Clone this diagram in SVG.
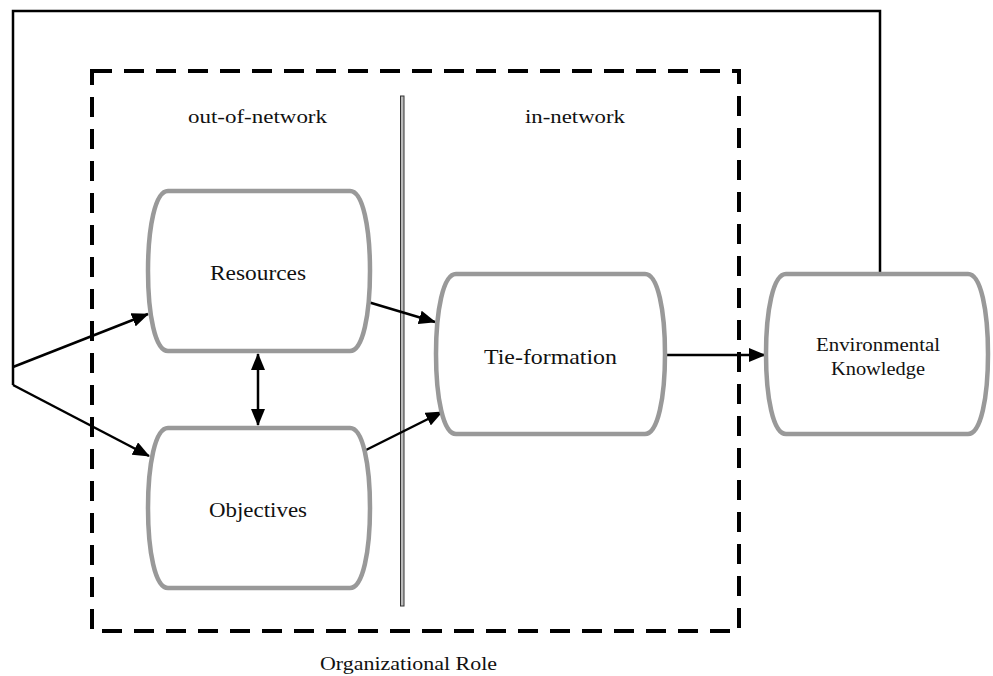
<svg xmlns="http://www.w3.org/2000/svg" width="993" height="676" viewBox="0 0 993 676">
<style>
.node{fill:#fff;stroke:#999;stroke-width:4.5}
.lbl{font-family:"Liberation Serif",serif;fill:#111;text-anchor:start}
.conn{stroke:#000;stroke-width:2.5;fill:none}
.dash{stroke:#000;stroke-width:4;fill:none;stroke-dasharray:20 12}
</style>
<defs>
<marker id="ah" markerUnits="userSpaceOnUse" markerWidth="18" markerHeight="14" refX="16" refY="7" orient="auto-start-reverse">
<path d="M0,0 L17,7 L0,14 Z" fill="#000"/>
</marker>
</defs>
<rect width="993" height="676" fill="#fff"/>
<g id="org-role">
<rect class="dash" x="92" y="71" width="647" height="560"/>
<text class="lbl" x="320" y="670" font-size="19" textLength="177" lengthAdjust="spacingAndGlyphs">Organizational Role</text>
</g>
<g id="divider">
<rect x="400.5" y="96" width="3.5" height="510" fill="#bbb" stroke="#333" stroke-width="1"/>
<text class="lbl" x="188" y="123" font-size="19" textLength="139" lengthAdjust="spacingAndGlyphs">out-of-network</text>
<text class="lbl" x="525" y="123" font-size="19" textLength="100" lengthAdjust="spacingAndGlyphs">in-network</text>
</g>
<g id="connectors">
<polyline class="conn" points="880,274 880,11 13,11 13,385"/>
<line class="conn" x1="13" y1="367" x2="148" y2="314" marker-end="url(#ah)"/>
<line class="conn" x1="13" y1="385" x2="149" y2="456" marker-end="url(#ah)"/>
<line class="conn" x1="258" y1="354" x2="258" y2="425" marker-start="url(#ah)" marker-end="url(#ah)"/>
<line class="conn" x1="368" y1="302" x2="435" y2="322" marker-end="url(#ah)"/>
<line class="conn" x1="362" y1="452" x2="442" y2="412" marker-end="url(#ah)"/>
<line class="conn" x1="665" y1="355" x2="765" y2="355" marker-end="url(#ah)"/>
</g>
<g id="resources">
<path class="node" d="M168,191 H350 C363,191 370,228 370,271 C370,314 363,351 350,351 H168 C155,351 148,314 148,271 C148,228 155,191 168,191 Z"/>
<text class="lbl" x="210" y="280" font-size="21" textLength="96" lengthAdjust="spacingAndGlyphs">Resources</text>
</g>
<g id="objectives">
<path class="node" d="M168,428 H350 C363,428 370,465 370,508 C370,551 363,588 350,588 H168 C155,588 148,551 148,508 C148,465 155,428 168,428 Z"/>
<text class="lbl" x="209" y="517" font-size="21" textLength="98" lengthAdjust="spacingAndGlyphs">Objectives</text>
</g>
<g id="tie-formation">
<path class="node" d="M456,274 H645 C658,274 665,311 665,354 C665,397 658,434 645,434 H456 C443,434 436,397 436,354 C436,311 443,274 456,274 Z"/>
<text class="lbl" x="484" y="364" font-size="21" textLength="133" lengthAdjust="spacingAndGlyphs">Tie-formation</text>
</g>
<g id="environmental-knowledge">
<path class="node" d="M786,274 H968 C981,274 988,311 988,354 C988,397 981,434 968,434 H786 C773,434 766,397 766,354 C766,311 773,274 786,274 Z"/>
<text class="lbl" x="816" y="351" font-size="18" textLength="124" lengthAdjust="spacingAndGlyphs">Environmental</text>
<text class="lbl" x="831" y="375" font-size="18" textLength="94" lengthAdjust="spacingAndGlyphs">Knowledge</text>
</g>
</svg>
